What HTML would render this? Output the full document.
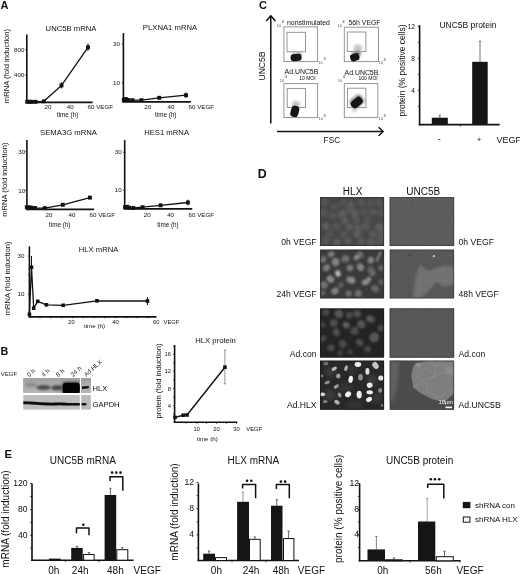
<!DOCTYPE html>
<html><head><meta charset="utf-8"><style>
html,body{margin:0;padding:0;background:#fff;width:520px;height:574px;overflow:hidden}
svg{display:block;filter:grayscale(1)}
text{font-family:"Liberation Sans",sans-serif}
</style></head><body>
<svg width="520" height="574" viewBox="0 0 520 574">
<rect width="520" height="574" fill="#fff"/>
<text x="0.40" y="9.00" font-size="11" text-anchor="start" font-weight="bold" fill="#111" >A</text>
<text x="0.60" y="354.80" font-size="10.8" text-anchor="start" font-weight="bold" fill="#111" >B</text>
<text x="259.00" y="8.80" font-size="11" text-anchor="start" font-weight="bold" fill="#111" >C</text>
<text x="257.80" y="177.90" font-size="12.4" text-anchor="start" font-weight="bold" fill="#111" >D</text>
<text x="4.40" y="458.20" font-size="11.4" text-anchor="start" font-weight="bold" fill="#111" >E</text>
<text x="71.00" y="30.76" font-size="7.7" text-anchor="middle" fill="#111" >UNC5B mRNA</text>
<line x1="26.80" y1="34.60" x2="26.80" y2="103.10" stroke="#111" stroke-width="1.6" />
<line x1="26.00" y1="102.40" x2="92.70" y2="102.40" stroke="#111" stroke-width="1.6" />
<text x="24.40" y="51.62" font-size="6.2" text-anchor="end" fill="#111" >800</text>
<text x="24.40" y="77.42" font-size="6.2" text-anchor="end" fill="#111" >400</text>
<text x="48.00" y="109.02" font-size="6.2" text-anchor="middle" fill="#111" >20</text>
<text x="70.20" y="109.02" font-size="6.2" text-anchor="middle" fill="#111" >40</text>
<text x="87.60" y="109.02" font-size="6.2" text-anchor="start" fill="#111" >60 VEGF</text>
<text x="67.60" y="117.38" font-size="6.3" text-anchor="middle" fill="#111" >time (h)</text>
<text transform="translate(7.40,66.00) rotate(-90)" x="0" y="1.99" font-size="7.65" text-anchor="middle" fill="#111">mRNA (fold induction)</text>
<line x1="25.20" y1="49.40" x2="26.80" y2="49.40" stroke="#111" stroke-width="0.8" />
<line x1="25.20" y1="75.20" x2="26.80" y2="75.20" stroke="#111" stroke-width="0.8" />
<line x1="61.50" y1="82.30" x2="61.50" y2="88.50" stroke="#111" stroke-width="1.0" />
<line x1="88.00" y1="43.50" x2="88.00" y2="50.90" stroke="#111" stroke-width="1.0" />
<polyline points="27.20,101.70 29.50,101.80 31.80,101.80 35.60,101.80 43.80,101.30 61.50,85.40 88.00,47.30" fill="none" stroke="#111" stroke-width="1.3" stroke-linejoin="round"/>
<rect x="25.25" y="99.75" width="3.90" height="3.90" fill="#111" />
<rect x="27.55" y="99.85" width="3.90" height="3.90" fill="#111" />
<rect x="29.85" y="99.85" width="3.90" height="3.90" fill="#111" />
<rect x="33.65" y="99.85" width="3.90" height="3.90" fill="#111" />
<rect x="41.85" y="99.35" width="3.90" height="3.90" fill="#111" />
<rect x="59.55" y="83.45" width="3.90" height="3.90" fill="#111" />
<rect x="86.05" y="45.35" width="3.90" height="3.90" fill="#111" />
<text x="170.00" y="30.46" font-size="7.7" text-anchor="middle" fill="#111" >PLXNA1 mRNA</text>
<line x1="123.40" y1="33.10" x2="123.40" y2="102.60" stroke="#111" stroke-width="1.6" />
<line x1="122.60" y1="101.90" x2="190.80" y2="101.90" stroke="#111" stroke-width="1.6" />
<text x="119.90" y="46.12" font-size="6.2" text-anchor="end" fill="#111" >30</text>
<text x="119.90" y="85.02" font-size="6.2" text-anchor="end" fill="#111" >10</text>
<text x="147.80" y="109.02" font-size="6.2" text-anchor="middle" fill="#111" >20</text>
<text x="171.00" y="109.02" font-size="6.2" text-anchor="middle" fill="#111" >40</text>
<text x="188.60" y="109.02" font-size="6.2" text-anchor="start" fill="#111" >60 VEGF</text>
<text x="165.70" y="116.58" font-size="6.3" text-anchor="middle" fill="#111" >time (h)</text>
<line x1="121.80" y1="43.90" x2="123.40" y2="43.90" stroke="#111" stroke-width="0.8" />
<line x1="121.80" y1="82.80" x2="123.40" y2="82.80" stroke="#111" stroke-width="0.8" />
<line x1="186.00" y1="92.50" x2="186.00" y2="97.80" stroke="#111" stroke-width="1.0" />
<polyline points="123.80,99.80 125.80,99.00 128.20,100.00 132.50,100.20 141.40,100.20 159.20,97.80 186.00,95.20" fill="none" stroke="#111" stroke-width="1.3" stroke-linejoin="round"/>
<rect x="121.85" y="97.85" width="3.90" height="3.90" fill="#111" />
<rect x="123.85" y="97.05" width="3.90" height="3.90" fill="#111" />
<rect x="126.25" y="98.05" width="3.90" height="3.90" fill="#111" />
<rect x="130.55" y="98.25" width="3.90" height="3.90" fill="#111" />
<rect x="139.45" y="98.25" width="3.90" height="3.90" fill="#111" />
<rect x="157.25" y="95.85" width="3.90" height="3.90" fill="#111" />
<rect x="184.05" y="93.25" width="3.90" height="3.90" fill="#111" />
<text x="68.50" y="134.86" font-size="7.7" text-anchor="middle" fill="#111" >SEMA3G mRNA</text>
<line x1="26.90" y1="140.10" x2="26.90" y2="210.10" stroke="#111" stroke-width="1.6" />
<line x1="26.10" y1="209.40" x2="94.10" y2="209.40" stroke="#111" stroke-width="1.6" />
<text x="25.20" y="153.92" font-size="6.2" text-anchor="end" fill="#111" >30</text>
<text x="25.20" y="192.62" font-size="6.2" text-anchor="end" fill="#111" >10</text>
<text x="49.00" y="216.82" font-size="6.2" text-anchor="middle" fill="#111" >20</text>
<text x="72.00" y="216.82" font-size="6.2" text-anchor="middle" fill="#111" >40</text>
<text x="89.60" y="216.82" font-size="6.2" text-anchor="start" fill="#111" >60 VEGF</text>
<text x="59.70" y="226.97" font-size="6.3" text-anchor="middle" fill="#111" >time (h)</text>
<text transform="translate(5.30,179.70) rotate(-90)" x="0" y="1.99" font-size="7.65" text-anchor="middle" fill="#111">mRNA (fold induction)</text>
<line x1="25.30" y1="151.70" x2="26.90" y2="151.70" stroke="#111" stroke-width="0.8" />
<line x1="25.30" y1="190.40" x2="26.90" y2="190.40" stroke="#111" stroke-width="0.8" />
<polyline points="26.80,207.30 28.80,207.30 31.00,207.60 35.00,208.00 44.80,208.10 62.80,204.80 89.90,197.60" fill="none" stroke="#111" stroke-width="1.3" stroke-linejoin="round"/>
<rect x="24.85" y="205.35" width="3.90" height="3.90" fill="#111" />
<rect x="26.85" y="205.35" width="3.90" height="3.90" fill="#111" />
<rect x="29.05" y="205.65" width="3.90" height="3.90" fill="#111" />
<rect x="33.05" y="206.05" width="3.90" height="3.90" fill="#111" />
<rect x="42.85" y="206.15" width="3.90" height="3.90" fill="#111" />
<rect x="60.85" y="202.85" width="3.90" height="3.90" fill="#111" />
<rect x="87.95" y="195.65" width="3.90" height="3.90" fill="#111" />
<text x="166.60" y="134.86" font-size="7.7" text-anchor="middle" fill="#111" >HES1 mRNA</text>
<line x1="124.70" y1="140.10" x2="124.70" y2="209.60" stroke="#111" stroke-width="1.6" />
<line x1="123.90" y1="208.90" x2="192.20" y2="208.90" stroke="#111" stroke-width="1.6" />
<text x="121.60" y="154.42" font-size="6.2" text-anchor="end" fill="#111" >30</text>
<text x="121.60" y="192.42" font-size="6.2" text-anchor="end" fill="#111" >10</text>
<text x="147.30" y="216.82" font-size="6.2" text-anchor="middle" fill="#111" >20</text>
<text x="170.60" y="216.82" font-size="6.2" text-anchor="middle" fill="#111" >40</text>
<text x="188.60" y="216.82" font-size="6.2" text-anchor="start" fill="#111" >60 VEGF</text>
<text x="168.00" y="226.97" font-size="6.3" text-anchor="middle" fill="#111" >time (h)</text>
<line x1="123.10" y1="152.20" x2="124.70" y2="152.20" stroke="#111" stroke-width="0.8" />
<line x1="123.10" y1="190.20" x2="124.70" y2="190.20" stroke="#111" stroke-width="0.8" />
<line x1="187.90" y1="199.60" x2="187.90" y2="205.40" stroke="#111" stroke-width="1.0" />
<polyline points="125.00,207.00 127.00,206.80 129.00,207.60 133.30,208.00 142.60,207.20 160.60,205.30 187.90,202.50" fill="none" stroke="#111" stroke-width="1.3" stroke-linejoin="round"/>
<rect x="123.05" y="205.05" width="3.90" height="3.90" fill="#111" />
<rect x="125.05" y="204.85" width="3.90" height="3.90" fill="#111" />
<rect x="127.05" y="205.65" width="3.90" height="3.90" fill="#111" />
<rect x="131.35" y="206.05" width="3.90" height="3.90" fill="#111" />
<rect x="140.65" y="205.25" width="3.90" height="3.90" fill="#111" />
<rect x="158.65" y="203.35" width="3.90" height="3.90" fill="#111" />
<rect x="185.95" y="200.55" width="3.90" height="3.90" fill="#111" />
<text x="98.60" y="251.86" font-size="7.7" text-anchor="middle" fill="#111" >HLX mRNA</text>
<line x1="29.40" y1="246.40" x2="29.40" y2="317.50" stroke="#111" stroke-width="1.6" />
<line x1="28.60" y1="316.90" x2="156.50" y2="316.90" stroke="#111" stroke-width="1.6" />
<text x="24.40" y="258.22" font-size="6.2" text-anchor="end" fill="#111" >30</text>
<text x="24.40" y="296.22" font-size="6.2" text-anchor="end" fill="#111" >10</text>
<line x1="40.00" y1="316.80" x2="40.00" y2="318.30" stroke="#111" stroke-width="0.7" />
<line x1="50.90" y1="316.80" x2="50.90" y2="318.30" stroke="#111" stroke-width="0.7" />
<line x1="61.70" y1="316.80" x2="61.70" y2="318.30" stroke="#111" stroke-width="0.7" />
<line x1="72.40" y1="316.80" x2="72.40" y2="318.30" stroke="#111" stroke-width="0.7" />
<line x1="83.20" y1="316.80" x2="83.20" y2="318.30" stroke="#111" stroke-width="0.7" />
<line x1="94.00" y1="316.80" x2="94.00" y2="318.30" stroke="#111" stroke-width="0.7" />
<line x1="104.70" y1="316.80" x2="104.70" y2="318.30" stroke="#111" stroke-width="0.7" />
<line x1="115.50" y1="316.80" x2="115.50" y2="318.30" stroke="#111" stroke-width="0.7" />
<line x1="126.20" y1="316.80" x2="126.20" y2="318.30" stroke="#111" stroke-width="0.7" />
<line x1="137.00" y1="316.80" x2="137.00" y2="318.30" stroke="#111" stroke-width="0.7" />
<line x1="147.70" y1="316.80" x2="147.70" y2="318.30" stroke="#111" stroke-width="0.7" />
<line x1="27.80" y1="256.00" x2="29.40" y2="256.00" stroke="#111" stroke-width="0.7" />
<line x1="27.80" y1="275.00" x2="29.40" y2="275.00" stroke="#111" stroke-width="0.7" />
<line x1="27.80" y1="294.00" x2="29.40" y2="294.00" stroke="#111" stroke-width="0.7" />
<text x="71.50" y="324.28" font-size="5.8" text-anchor="middle" fill="#111" >20</text>
<text x="115.50" y="324.28" font-size="5.8" text-anchor="middle" fill="#111" >40</text>
<text x="156.30" y="324.28" font-size="5.8" text-anchor="middle" fill="#111" >60</text>
<text x="163.60" y="324.28" font-size="5.8" text-anchor="start" fill="#111" >VEGF</text>
<text x="94.50" y="327.95" font-size="6.2" text-anchor="middle" fill="#111" >time (h)</text>
<text transform="translate(8.40,278.40) rotate(-90)" x="0" y="1.98" font-size="7.6" text-anchor="middle" fill="#111">mRNA (fold induction)</text>
<line x1="31.50" y1="256.00" x2="31.50" y2="278.00" stroke="#111" stroke-width="1.0" />
<line x1="147.50" y1="297.00" x2="147.50" y2="305.00" stroke="#111" stroke-width="1.0" />
<polyline points="29.40,314.30 31.50,267.20 33.70,308.20 37.70,301.30 46.40,304.80 63.20,305.30 97.00,300.80 147.50,301.00" fill="none" stroke="#111" stroke-width="1.3" stroke-linejoin="round"/>
<rect x="27.60" y="312.50" width="3.60" height="3.60" fill="#111" />
<rect x="29.70" y="265.40" width="3.60" height="3.60" fill="#111" />
<rect x="31.90" y="306.40" width="3.60" height="3.60" fill="#111" />
<rect x="35.90" y="299.50" width="3.60" height="3.60" fill="#111" />
<rect x="44.60" y="303.00" width="3.60" height="3.60" fill="#111" />
<rect x="61.40" y="303.50" width="3.60" height="3.60" fill="#111" />
<rect x="95.20" y="299.00" width="3.60" height="3.60" fill="#111" />
<rect x="145.70" y="299.20" width="3.60" height="3.60" fill="#111" />
<text x="0.80" y="376.35" font-size="6.0" text-anchor="start" fill="#222" >VEGF</text>
<text transform="translate(29.2,377.2) rotate(-42)" font-size="6.3" fill="#222">0 h</text>
<text transform="translate(43.8,377.2) rotate(-42)" font-size="6.3" fill="#222">4 h</text>
<text transform="translate(58.3,377.2) rotate(-42)" font-size="6.3" fill="#222">8 h</text>
<text transform="translate(73.0,377.2) rotate(-42)" font-size="6.3" fill="#222">24 h</text>
<text transform="translate(86.2,377.0) rotate(-42)" font-size="6.3" fill="#222">Ad.HLX</text>
<defs>
<filter id="bl1" x="-30%" y="-60%" width="160%" height="220%"><feGaussianBlur stdDeviation="1.2"/></filter>
<filter id="bl06" x="-30%" y="-60%" width="160%" height="220%"><feGaussianBlur stdDeviation="0.6"/></filter>
<filter id="bl2" x="-30%" y="-30%" width="160%" height="160%"><feGaussianBlur stdDeviation="1.6"/></filter>
<filter id="bl08" x="-30%" y="-30%" width="160%" height="160%"><feGaussianBlur stdDeviation="0.8"/></filter>
<clipPath id="cb1"><rect x="23.3" y="378.2" width="56.5" height="14.7"/></clipPath>
<clipPath id="cb2"><rect x="23.3" y="395.1" width="56.5" height="14.5"/></clipPath>
<clipPath id="cb3"><rect x="81.2" y="378.2" width="9.6" height="14.7"/></clipPath>
<clipPath id="cb4"><rect x="81.2" y="395.1" width="9.6" height="14.5"/></clipPath>
</defs>
<rect x="23.30" y="378.20" width="56.50" height="14.70" fill="#ababab" />
<rect x="23.30" y="395.10" width="56.50" height="14.50" fill="#bdbdbd" />
<rect x="81.20" y="378.20" width="9.60" height="14.70" fill="#ababab" />
<rect x="81.20" y="395.10" width="9.60" height="14.50" fill="#bababa" />
<defs><linearGradient id="blg" x1="0" y1="0" x2="0" y2="1"><stop offset="0" stop-color="#9c9c9c"/><stop offset="0.35" stop-color="#ababab"/><stop offset="1" stop-color="#b6b6b6"/></linearGradient></defs>
<rect x="23.30" y="378.20" width="56.50" height="14.70" fill="url(#blg)" />
<rect x="81.20" y="378.20" width="9.60" height="14.70" fill="url(#blg)" />
<g clip-path="url(#cb1)"><g filter="url(#bl1)"><ellipse cx="31" cy="385" rx="6" ry="2.4" fill="#8e8e8e"/><ellipse cx="43.5" cy="387.5" rx="7.2" ry="2.5" fill="#4c4c4c"/><ellipse cx="57" cy="387.8" rx="5.8" ry="2.7" fill="#484848"/><rect x="61.5" y="381.5" width="19" height="13" rx="4" fill="#555"/></g><g filter="url(#bl06)"><rect x="62.8" y="382.8" width="17.2" height="11.5" rx="3.5" fill="#060606"/></g></g>
<g clip-path="url(#cb3)"><g filter="url(#bl06)"><path d="M82,386.6 L88.8,386 L88.8,388.2 L82,389 Z" fill="#111"/></g></g>
<g clip-path="url(#cb2)"><g filter="url(#bl06)"><path d="M22,401.2 C30,401.3 38,402.2 46,402.6 C52,402.9 58,402.4 63,402.5 C68,403 74,403.1 80,402.9 L80,405.5 C72,405.7 66,405.6 60,405.2 C52,405.5 44,405.6 36,404.8 C30,404.5 26,404.3 22,404.3 Z" fill="#0a0a0a"/></g></g>
<g clip-path="url(#cb4)"><g filter="url(#bl06)"><ellipse cx="84" cy="404.2" rx="2.8" ry="1.3" fill="#111"/></g></g>
<text x="92.60" y="390.72" font-size="7.6" text-anchor="start" fill="#111" >HLX</text>
<text x="92.60" y="406.72" font-size="7.6" text-anchor="start" fill="#111" >GAPDH</text>
<text x="215.60" y="343.16" font-size="7.7" text-anchor="middle" fill="#111" >HLX protein</text>
<line x1="174.60" y1="345.00" x2="174.60" y2="423.00" stroke="#111" stroke-width="1.6" />
<line x1="173.80" y1="422.30" x2="237.30" y2="422.30" stroke="#111" stroke-width="1.6" />
<text x="171.00" y="356.38" font-size="5.8" text-anchor="end" fill="#111" >16</text>
<text x="171.00" y="373.28" font-size="5.8" text-anchor="end" fill="#111" >12</text>
<text x="171.00" y="390.58" font-size="5.8" text-anchor="end" fill="#111" >8</text>
<text x="171.00" y="407.78" font-size="5.8" text-anchor="end" fill="#111" >4</text>
<line x1="173.00" y1="346.00" x2="174.60" y2="346.00" stroke="#111" stroke-width="0.7" />
<line x1="173.00" y1="354.30" x2="174.60" y2="354.30" stroke="#111" stroke-width="0.7" />
<line x1="173.00" y1="362.80" x2="174.60" y2="362.80" stroke="#111" stroke-width="0.7" />
<line x1="173.00" y1="371.20" x2="174.60" y2="371.20" stroke="#111" stroke-width="0.7" />
<line x1="173.00" y1="379.80" x2="174.60" y2="379.80" stroke="#111" stroke-width="0.7" />
<line x1="173.00" y1="388.50" x2="174.60" y2="388.50" stroke="#111" stroke-width="0.7" />
<line x1="173.00" y1="397.00" x2="174.60" y2="397.00" stroke="#111" stroke-width="0.7" />
<line x1="173.00" y1="405.70" x2="174.60" y2="405.70" stroke="#111" stroke-width="0.7" />
<line x1="173.00" y1="414.00" x2="174.60" y2="414.00" stroke="#111" stroke-width="0.7" />
<line x1="186.00" y1="422.20" x2="186.00" y2="423.80" stroke="#111" stroke-width="0.7" />
<line x1="196.80" y1="422.20" x2="196.80" y2="423.80" stroke="#111" stroke-width="0.7" />
<line x1="206.50" y1="422.20" x2="206.50" y2="423.80" stroke="#111" stroke-width="0.7" />
<line x1="216.50" y1="422.20" x2="216.50" y2="423.80" stroke="#111" stroke-width="0.7" />
<line x1="226.50" y1="422.20" x2="226.50" y2="423.80" stroke="#111" stroke-width="0.7" />
<line x1="236.50" y1="422.20" x2="236.50" y2="423.80" stroke="#111" stroke-width="0.7" />
<text x="196.80" y="431.28" font-size="5.8" text-anchor="middle" fill="#111" >10</text>
<text x="216.50" y="431.28" font-size="5.8" text-anchor="middle" fill="#111" >20</text>
<text x="236.50" y="431.28" font-size="5.8" text-anchor="middle" fill="#111" >30</text>
<text x="246.30" y="431.28" font-size="5.8" text-anchor="start" fill="#111" >VEGF</text>
<text x="207.30" y="441.15" font-size="6.2" text-anchor="middle" fill="#111" >time (h)</text>
<text transform="translate(159,381) rotate(-90)" x="0" y="1.98" font-size="7.6" text-anchor="middle" fill="#111">protein (fold induction)</text>
<line x1="224.90" y1="350.00" x2="224.90" y2="383.80" stroke="#777" stroke-width="0.8" />
<line x1="223.70" y1="350.00" x2="226.10" y2="350.00" stroke="#777" stroke-width="0.8" />
<line x1="223.70" y1="383.80" x2="226.10" y2="383.80" stroke="#777" stroke-width="0.8" />
<polyline points="175.00,417.40 183.20,415.20 187.00,415.00 224.90,367.20" fill="none" stroke="#111" stroke-width="1.4" stroke-linejoin="round"/>
<rect x="173.20" y="415.60" width="3.60" height="3.60" fill="#111" />
<rect x="181.40" y="413.40" width="3.60" height="3.60" fill="#111" />
<rect x="185.20" y="413.20" width="3.60" height="3.60" fill="#111" />
<rect x="223.10" y="365.40" width="3.60" height="3.60" fill="#111" />
<line x1="270.80" y1="16.20" x2="270.80" y2="123.50" stroke="#111" stroke-width="1.5" />
<polyline points="266.20,20.90 270.80,15.80 275.40,20.90" fill="none" stroke="#111" stroke-width="1.5" stroke-linejoin="round"/>
<line x1="277.00" y1="131.50" x2="382.60" y2="131.50" stroke="#111" stroke-width="1.5" />
<polyline points="378.60,127.30 383.20,131.50 378.60,135.70" fill="none" stroke="#111" stroke-width="1.5" stroke-linejoin="round"/>
<text transform="translate(262.00,66.00) rotate(-90)" x="0" y="3.08" font-size="8.6" text-anchor="middle" fill="#111">UNC5B</text>
<text x="331.90" y="142.97" font-size="8.3" text-anchor="middle" fill="#111" >FSC</text>
<rect x="283.90" y="26.90" width="33.70" height="34.70" fill="none" stroke="#8a8a8a" stroke-width="0.9" />
<rect x="287.00" y="32.30" width="18.50" height="19.50" fill="none" stroke="#8a8a8a" stroke-width="0.9" />
<g filter="url(#bl08)"><rect x="292" y="52.5" width="10.00" height="4.50" rx="2" transform="rotate(-5 297.00 54.75)" fill="#b0b0b0"/></g><g filter="url(#mb6)"><rect x="290.6" y="54.0" width="11.00" height="7.00" rx="3" transform="rotate(-6 296.10 57.50)" fill="#151515"/></g>
<rect x="344.30" y="27.20" width="34.20" height="34.40" fill="none" stroke="#8a8a8a" stroke-width="0.9" />
<rect x="347.30" y="32.00" width="18.60" height="19.50" fill="none" stroke="#8a8a8a" stroke-width="0.9" />
<g filter="url(#bl08)"><rect x="354" y="44.5" width="8.00" height="7.50" rx="3" transform="rotate(20 358.00 48.25)" fill="#c8c8c8"/><rect x="352" y="51" width="9.00" height="6.00" rx="2.5" transform="rotate(-20 356.50 54.00)" fill="#8a8a8a"/></g><g filter="url(#mb6)"><rect x="350.2" y="53.6" width="9.20" height="7.40" rx="3" transform="rotate(-18 354.80 57.30)" fill="#161616"/></g>
<rect x="283.90" y="83.60" width="33.70" height="34.00" fill="none" stroke="#8a8a8a" stroke-width="0.9" />
<rect x="287.20" y="88.40" width="18.30" height="19.00" fill="none" stroke="#8a8a8a" stroke-width="0.9" />
<g filter="url(#bl08)"><rect x="292" y="101" width="8.00" height="8.00" rx="3" transform="rotate(15 296.00 105.00)" fill="#c4c4c4"/></g><g filter="url(#mb6)"><rect x="290.8" y="105.6" width="8.00" height="11.40" rx="3.5" transform="rotate(14 294.80 111.30)" fill="#151515"/></g>
<rect x="344.30" y="83.60" width="33.50" height="33.80" fill="none" stroke="#8a8a8a" stroke-width="0.9" />
<rect x="347.50" y="88.20" width="18.40" height="19.40" fill="none" stroke="#8a8a8a" stroke-width="0.9" />
<g filter="url(#bl08)"><rect x="350" y="96" width="14.00" height="11.00" rx="4" transform="rotate(-38 357.00 101.50)" fill="#9a9a9a"/><rect x="352" y="107" width="5.00" height="5.00" rx="2" transform="rotate(0 354.50 109.50)" fill="#d0d0d0"/></g><g filter="url(#mb6)"><rect x="350.4" y="98.5" width="12.60" height="8.10" rx="3.5" transform="rotate(-40 356.70 102.55)" fill="#161616"/></g>
<text x="287.00" y="25.07" font-size="6.9" text-anchor="start" fill="#111" >nonstimulated</text>
<text x="348.40" y="24.67" font-size="6.9" text-anchor="start" fill="#111" >56h VEGF</text>
<text x="284.60" y="74.27" font-size="6.9" text-anchor="start" fill="#111" >Ad.UNC5B</text>
<text x="344.60" y="74.87" font-size="6.9" text-anchor="start" fill="#111" >Ad.UNC5B</text>
<text x="299.20" y="79.69" font-size="5.0" text-anchor="start" fill="#111" >10 MOI</text>
<text x="358.50" y="80.39" font-size="5.0" text-anchor="start" fill="#111" >100 MOI</text>
<text x="276.7" y="26.9" font-size="4" fill="#555">10</text><text x="281.8" y="23.4" font-size="3.8" fill="#222">4</text>
<text x="337.5" y="26.9" font-size="4" fill="#555">10</text><text x="342.6" y="23.4" font-size="3.8" fill="#222">4</text>
<text x="279.7" y="81.8" font-size="4" fill="#555">10</text><text x="284.8" y="78.3" font-size="3.8" fill="#222">4</text>
<text x="337.7" y="81.7" font-size="4" fill="#555">10</text><text x="342.8" y="78.2" font-size="3.8" fill="#222">4</text>
<text x="318.3" y="63.9" font-size="4" fill="#555">10</text><text x="323.4" y="60.4" font-size="3.8" fill="#222">3</text>
<text x="378.5" y="64.1" font-size="4" fill="#555">10</text><text x="383.6" y="60.6" font-size="3.8" fill="#222">3</text>
<text x="318.5" y="120.1" font-size="4" fill="#555">10</text><text x="323.6" y="116.6" font-size="3.8" fill="#222">3</text>
<text x="378.5" y="120.3" font-size="4" fill="#555">10</text><text x="383.6" y="116.8" font-size="3.8" fill="#222">3</text>
<text x="468.00" y="28.44" font-size="8.5" text-anchor="middle" fill="#111" >UNC5B protein</text>
<line x1="419.60" y1="25.20" x2="419.60" y2="125.30" stroke="#111" stroke-width="1.6" />
<line x1="418.80" y1="124.60" x2="499.70" y2="124.60" stroke="#111" stroke-width="1.6" />
<line x1="460.50" y1="124.60" x2="460.50" y2="126.40" stroke="#111" stroke-width="0.8" />
<text x="415.00" y="28.76" font-size="6.6" text-anchor="end" fill="#111" >12</text>
<text x="415.00" y="61.36" font-size="6.6" text-anchor="end" fill="#111" >8</text>
<text x="415.00" y="92.86" font-size="6.6" text-anchor="end" fill="#111" >4</text>
<line x1="417.80" y1="26.40" x2="419.60" y2="26.40" stroke="#111" stroke-width="0.8" />
<line x1="417.80" y1="42.40" x2="419.60" y2="42.40" stroke="#111" stroke-width="0.8" />
<line x1="417.80" y1="58.40" x2="419.60" y2="58.40" stroke="#111" stroke-width="0.8" />
<line x1="417.80" y1="74.40" x2="419.60" y2="74.40" stroke="#111" stroke-width="0.8" />
<line x1="417.80" y1="90.40" x2="419.60" y2="90.40" stroke="#111" stroke-width="0.8" />
<line x1="417.80" y1="106.40" x2="419.60" y2="106.40" stroke="#111" stroke-width="0.8" />
<line x1="439.80" y1="115.20" x2="439.80" y2="118.00" stroke="#555" stroke-width="0.8" />
<line x1="438.60" y1="115.20" x2="441.00" y2="115.20" stroke="#555" stroke-width="0.8" />
<rect x="431.80" y="117.70" width="16.00" height="6.90" fill="#151515" />
<line x1="480.00" y1="41.20" x2="480.00" y2="62.00" stroke="#555" stroke-width="0.8" />
<line x1="478.80" y1="41.20" x2="481.20" y2="41.20" stroke="#555" stroke-width="0.8" />
<rect x="472.20" y="61.80" width="15.50" height="62.80" fill="#151515" />
<text x="439.20" y="142.42" font-size="9" text-anchor="middle" fill="#111" >-</text>
<text x="479.20" y="142.46" font-size="8" text-anchor="middle" fill="#111" >+</text>
<text x="496.40" y="142.82" font-size="9" text-anchor="start" fill="#111" >VEGF</text>
<text transform="translate(402.3,70.5) rotate(-90)" x="0" y="2.21" font-size="8.5" text-anchor="middle" fill="#111">protein (% positive cells)</text>
<text x="352.60" y="194.78" font-size="10" text-anchor="middle" fill="#111" >HLX</text>
<text x="423.30" y="195.28" font-size="10" text-anchor="middle" fill="#111" >UNC5B</text>
<clipPath id="m1_0"><rect x="320" y="197.1" width="64.10" height="48.90"/></clipPath>
<clipPath id="m2_0"><rect x="389.7" y="197.1" width="64.40" height="48.90"/></clipPath>
<clipPath id="m1_1"><rect x="320" y="249.6" width="64.10" height="48.80"/></clipPath>
<clipPath id="m2_1"><rect x="389.7" y="249.6" width="64.40" height="48.80"/></clipPath>
<clipPath id="m1_2"><rect x="320" y="308.4" width="64.10" height="49.20"/></clipPath>
<clipPath id="m2_2"><rect x="389.7" y="308.4" width="64.40" height="49.20"/></clipPath>
<clipPath id="m1_3"><rect x="320" y="360.6" width="64.10" height="49.20"/></clipPath>
<clipPath id="m2_3"><rect x="389.7" y="360.6" width="64.40" height="49.20"/></clipPath>
<defs><filter id="grW" x="0" y="0" width="1" height="1" color-interpolation-filters="sRGB"><feTurbulence type="fractalNoise" baseFrequency="0.85" numOctaves="2" seed="4"/><feColorMatrix type="matrix" values="0 0 0 0 1  0 0 0 0 1  0 0 0 0 1  0.9 0 0 0 -0.45"/></filter><filter id="grB" x="0" y="0" width="1" height="1" color-interpolation-filters="sRGB"><feTurbulence type="fractalNoise" baseFrequency="0.85" numOctaves="2" seed="4"/><feColorMatrix type="matrix" values="0 0 0 0 0  0 0 0 0 0  0 0 0 0 0  -0.9 0 0 0 0.45"/></filter></defs>
<defs><filter id="mb6" x="-20%" y="-20%" width="140%" height="140%"><feGaussianBlur stdDeviation="0.6"/></filter><filter id="mb8" x="-20%" y="-20%" width="140%" height="140%"><feGaussianBlur stdDeviation="0.8"/></filter><filter id="mb10" x="-20%" y="-20%" width="140%" height="140%"><feGaussianBlur stdDeviation="1.0"/></filter><filter id="mb12" x="-20%" y="-20%" width="140%" height="140%"><feGaussianBlur stdDeviation="1.2"/></filter><filter id="mb14" x="-20%" y="-20%" width="140%" height="140%"><feGaussianBlur stdDeviation="1.4"/></filter><filter id="mb16" x="-20%" y="-20%" width="140%" height="140%"><feGaussianBlur stdDeviation="1.6"/></filter><filter id="mb20" x="-20%" y="-20%" width="140%" height="140%"><feGaussianBlur stdDeviation="2.0"/></filter><filter id="mb25" x="-20%" y="-20%" width="140%" height="140%"><feGaussianBlur stdDeviation="2.5"/></filter><filter id="mb30" x="-20%" y="-20%" width="140%" height="140%"><feGaussianBlur stdDeviation="3.0"/></filter></defs>
<g clip-path="url(#m1_0)"><g><rect x="320" y="197.1" width="64.10" height="48.90" fill="#454545"/><g filter="url(#mb16)"><ellipse cx="324.5" cy="202.2" rx="4.5" ry="3.9" transform="rotate(-54 324.5 202.2)" fill="#535353"/><ellipse cx="334.3" cy="206.8" rx="4.0" ry="3.0" transform="rotate(1 334.3 206.8)" fill="#565656"/><ellipse cx="342.8" cy="202.8" rx="3.7" ry="3.1" transform="rotate(-31 342.8 202.8)" fill="#565656"/><ellipse cx="351.0" cy="205.0" rx="3.7" ry="3.3" transform="rotate(54 351.0 205.0)" fill="#5e5e5e"/><ellipse cx="361.0" cy="202.8" rx="4.2" ry="3.5" transform="rotate(57 361.0 202.8)" fill="#565656"/><ellipse cx="370.3" cy="203.5" rx="4.2" ry="3.3" transform="rotate(-10 370.3 203.5)" fill="#565656"/><ellipse cx="379.5" cy="203.0" rx="4.2" ry="3.7" transform="rotate(22 379.5 203.0)" fill="#565656"/><ellipse cx="323.9" cy="212.6" rx="4.2" ry="3.8" transform="rotate(-15 323.9 212.6)" fill="#565656"/><ellipse cx="349.4" cy="209.0" rx="4.2" ry="3.8" transform="rotate(-0 349.4 209.0)" fill="#565656"/><ellipse cx="354.6" cy="213.5" rx="4.4" ry="3.8" transform="rotate(51 354.6 213.5)" fill="#5e5e5e"/><ellipse cx="364.0" cy="211.5" rx="3.9" ry="3.7" transform="rotate(24 364.0 211.5)" fill="#535353"/><ellipse cx="373.0" cy="212.0" rx="3.7" ry="3.0" transform="rotate(-1 373.0 212.0)" fill="#5a5a5a"/><ellipse cx="381.0" cy="213.0" rx="4.3" ry="3.6" transform="rotate(58 381.0 213.0)" fill="#535353"/><ellipse cx="333.0" cy="215.9" rx="4.1" ry="3.3" transform="rotate(-19 333.0 215.9)" fill="#565656"/><ellipse cx="342.2" cy="214.0" rx="4.0" ry="4.0" transform="rotate(-51 342.2 214.0)" fill="#5e5e5e"/><ellipse cx="367.7" cy="219.0" rx="3.9" ry="3.3" transform="rotate(-0 367.7 219.0)" fill="#535353"/><ellipse cx="345.0" cy="221.0" rx="3.7" ry="2.8" transform="rotate(-28 345.0 221.0)" fill="#5e5e5e"/><ellipse cx="356.0" cy="220.0" rx="3.7" ry="3.4" transform="rotate(18 356.0 220.0)" fill="#565656"/><ellipse cx="325.8" cy="226.4" rx="3.9" ry="3.3" transform="rotate(20 325.8 226.4)" fill="#5e5e5e"/><ellipse cx="336.3" cy="226.4" rx="4.5" ry="3.8" transform="rotate(13 336.3 226.4)" fill="#565656"/><ellipse cx="349.4" cy="227.0" rx="3.7" ry="3.4" transform="rotate(-44 349.4 227.0)" fill="#5e5e5e"/><ellipse cx="358.0" cy="228.0" rx="4.0" ry="3.9" transform="rotate(-0 358.0 228.0)" fill="#5a5a5a"/><ellipse cx="366.0" cy="226.0" rx="4.0" ry="3.6" transform="rotate(46 366.0 226.0)" fill="#5a5a5a"/><ellipse cx="379.5" cy="227.0" rx="4.5" ry="3.7" transform="rotate(-10 379.5 227.0)" fill="#5e5e5e"/><ellipse cx="329.8" cy="234.2" rx="4.3" ry="3.6" transform="rotate(-32 329.8 234.2)" fill="#535353"/><ellipse cx="344.2" cy="234.2" rx="3.8" ry="3.1" transform="rotate(-32 344.2 234.2)" fill="#565656"/><ellipse cx="357.2" cy="234.2" rx="4.4" ry="3.5" transform="rotate(-26 357.2 234.2)" fill="#5e5e5e"/><ellipse cx="373.0" cy="234.0" rx="4.0" ry="3.4" transform="rotate(8 373.0 234.0)" fill="#5a5a5a"/><ellipse cx="382.0" cy="235.0" rx="4.3" ry="3.8" transform="rotate(14 382.0 235.0)" fill="#5a5a5a"/><ellipse cx="325.8" cy="241.0" rx="4.1" ry="3.9" transform="rotate(54 325.8 241.0)" fill="#565656"/><ellipse cx="337.0" cy="242.0" rx="4.0" ry="3.4" transform="rotate(-2 337.0 242.0)" fill="#5e5e5e"/><ellipse cx="348.0" cy="241.0" rx="3.7" ry="2.8" transform="rotate(-35 348.0 241.0)" fill="#5e5e5e"/><ellipse cx="361.2" cy="241.0" rx="3.7" ry="3.3" transform="rotate(-48 361.2 241.0)" fill="#5a5a5a"/><ellipse cx="371.0" cy="242.0" rx="4.1" ry="4.1" transform="rotate(14 371.0 242.0)" fill="#5a5a5a"/><ellipse cx="380.0" cy="241.0" rx="4.5" ry="4.0" transform="rotate(-42 380.0 241.0)" fill="#565656"/></g></g></g>
<g opacity="0.15"><rect x="320" y="197.1" width="64.10" height="48.90" fill="#000" filter="url(#grW)"/><rect x="320" y="197.1" width="64.10" height="48.90" fill="#000" filter="url(#grB)"/></g>
<rect x="320.35" y="197.45" width="63.40" height="48.20" fill="none" stroke="#2e2e2e" stroke-width="0.7"/>
<rect x="389.70" y="197.10" width="64.40" height="48.90" fill="#5c5c5c" />
<g opacity="0.15"><rect x="389.7" y="197.1" width="64.40" height="48.90" fill="#000" filter="url(#grW)"/><rect x="389.7" y="197.1" width="64.40" height="48.90" fill="#000" filter="url(#grB)"/></g>
<rect x="390.05" y="197.45" width="63.70" height="48.20" fill="none" stroke="#3a3a3a" stroke-width="0.7"/>
<g clip-path="url(#m1_1)"><g><rect x="320" y="249.6" width="64.10" height="48.80" fill="#393939"/><g filter="url(#mb12)"><ellipse cx="331.1" cy="254.2" rx="3.6" ry="2.9" transform="rotate(-18 331.1 254.2)" fill="#7a7a7a"/><ellipse cx="323.2" cy="259.4" rx="3.8" ry="3.2" transform="rotate(-45 323.2 259.4)" fill="#6e6e6e"/><ellipse cx="335.6" cy="262.0" rx="4.0" ry="3.8" transform="rotate(59 335.6 262.0)" fill="#828282"/><ellipse cx="345.5" cy="258.8" rx="4.0" ry="3.5" transform="rotate(-2 345.5 258.8)" fill="#707070"/><ellipse cx="326.5" cy="267.9" rx="4.0" ry="3.1" transform="rotate(-48 326.5 267.9)" fill="#7a7a7a"/><ellipse cx="337.6" cy="272.5" rx="2.8" ry="2.3" transform="rotate(-28 337.6 272.5)" fill="#a8a8a8"/><ellipse cx="350.0" cy="268.0" rx="3.4" ry="3.3" transform="rotate(-41 350.0 268.0)" fill="#7a7a7a"/><ellipse cx="360.4" cy="254.6" rx="4.0" ry="3.0" transform="rotate(54 360.4 254.6)" fill="#666666"/><ellipse cx="356.6" cy="257.4" rx="3.0" ry="2.6" transform="rotate(-42 356.6 257.4)" fill="#8a8a8a"/><ellipse cx="370.8" cy="260.2" rx="3.6" ry="3.2" transform="rotate(-57 370.8 260.2)" fill="#808080"/><ellipse cx="360.4" cy="267.1" rx="4.0" ry="3.5" transform="rotate(57 360.4 267.1)" fill="#808080"/><ellipse cx="370.8" cy="269.9" rx="3.5" ry="3.4" transform="rotate(24 370.8 269.9)" fill="#606060"/><ellipse cx="338.3" cy="274.6" rx="2.4" ry="2.0" transform="rotate(-16 338.3 274.6)" fill="#c4c4c4"/><ellipse cx="330.4" cy="279.2" rx="4.0" ry="3.2" transform="rotate(33 330.4 279.2)" fill="#8a8a8a"/><ellipse cx="323.9" cy="285.0" rx="4.0" ry="3.5" transform="rotate(33 323.9 285.0)" fill="#707070"/><ellipse cx="335.0" cy="291.0" rx="4.0" ry="3.3" transform="rotate(-33 335.0 291.0)" fill="#808080"/><ellipse cx="349.4" cy="279.8" rx="3.2" ry="3.0" transform="rotate(58 349.4 279.8)" fill="#808080"/><ellipse cx="348.7" cy="293.6" rx="3.2" ry="3.1" transform="rotate(37 348.7 293.6)" fill="#6a6a6a"/><ellipse cx="352.0" cy="280.3" rx="3.5" ry="3.3" transform="rotate(29 352.0 280.3)" fill="#8c8c8c"/><ellipse cx="365.2" cy="282.4" rx="3.5" ry="2.8" transform="rotate(2 365.2 282.4)" fill="#8a8a8a"/><ellipse cx="368.7" cy="279.6" rx="2.8" ry="2.3" transform="rotate(-57 368.7 279.6)" fill="#909090"/><ellipse cx="372.8" cy="273.4" rx="3.2" ry="2.4" transform="rotate(-26 372.8 273.4)" fill="#707070"/><ellipse cx="375.0" cy="288.6" rx="4.0" ry="3.3" transform="rotate(23 375.0 288.6)" fill="#666666"/><ellipse cx="358.3" cy="293.5" rx="3.5" ry="3.5" transform="rotate(-6 358.3 293.5)" fill="#707070"/><ellipse cx="381.5" cy="282.0" rx="3.0" ry="3.0" transform="rotate(59 381.5 282.0)" fill="#5a5a5a"/><ellipse cx="381.0" cy="268.0" rx="3.0" ry="3.0" transform="rotate(-16 381.0 268.0)" fill="#646464"/><ellipse cx="341.0" cy="285.0" rx="3.0" ry="2.4" transform="rotate(-33 341.0 285.0)" fill="#606060"/><ellipse cx="323.0" cy="293.0" rx="3.0" ry="2.4" transform="rotate(-35 323.0 293.0)" fill="#5e5e5e"/></g><g filter="url(#mb10)"><line x1="381" y1="251.5" x2="376.5" y2="261.5" stroke="#8a8a8a" stroke-width="2"/></g></g></g>
<g opacity="0.15"><rect x="320" y="249.6" width="64.10" height="48.80" fill="#000" filter="url(#grW)"/><rect x="320" y="249.6" width="64.10" height="48.80" fill="#000" filter="url(#grB)"/></g>
<rect x="320.35" y="249.95" width="63.40" height="48.10" fill="none" stroke="#2e2e2e" stroke-width="0.7"/>
<g clip-path="url(#m2_1)"><g><rect x="389.7" y="249.6" width="64.40" height="48.80" fill="#575757"/><g filter="url(#mb16)"></g><g filter="url(#mb12)"><polygon points="420.6,264.5 424,268 429.5,271.2 436,268 444.3,265.2 454.5,266.5 454.5,284 444.3,287 436,282 429.5,290 421,297.5 412.8,298 414.2,287 416,275" fill="#717171"/></g><g filter="url(#mb8)" stroke="#7c7c7c" stroke-width="0.8" fill="none"><path d="M419,268 L421,276 L418,285 L419,295 M428,273 L437,270 L447,270 M431,283 L440,279 L450,283 M422,289 L428,292"/></g><g filter="url(#mb6)"><circle cx="433.8" cy="256.2" r="1.1" fill="#d0d0d0"/><ellipse cx="409.6" cy="255.5" rx="1.2" ry="0.7" fill="#333"/></g></g></g>
<g opacity="0.15"><rect x="389.7" y="249.6" width="64.40" height="48.80" fill="#000" filter="url(#grW)"/><rect x="389.7" y="249.6" width="64.40" height="48.80" fill="#000" filter="url(#grB)"/></g>
<rect x="390.05" y="249.95" width="63.70" height="48.10" fill="none" stroke="#3a3a3a" stroke-width="0.7"/>
<g clip-path="url(#m1_2)"><g><rect x="320" y="308.4" width="64.10" height="49.20" fill="#232323"/><g filter="url(#mb12)"><ellipse cx="338.9" cy="313.8" rx="4.5" ry="4.1" transform="rotate(48 338.9 313.8)" fill="#585858"/><ellipse cx="349.4" cy="315.2" rx="3.5" ry="3.4" transform="rotate(-2 349.4 315.2)" fill="#4a4a4a"/><ellipse cx="357.2" cy="313.8" rx="4.0" ry="3.7" transform="rotate(36 357.2 313.8)" fill="#505050"/><ellipse cx="370.3" cy="319.0" rx="4.5" ry="3.5" transform="rotate(19 370.3 319.0)" fill="#555555"/><ellipse cx="325.8" cy="312.5" rx="3.5" ry="3.4" transform="rotate(34 325.8 312.5)" fill="#4a4a4a"/><ellipse cx="333.7" cy="323.0" rx="4.0" ry="3.8" transform="rotate(-3 333.7 323.0)" fill="#505050"/><ellipse cx="346.1" cy="325.0" rx="3.6" ry="2.9" transform="rotate(35 346.1 325.0)" fill="#606060"/><ellipse cx="361.2" cy="324.3" rx="4.5" ry="3.7" transform="rotate(36 361.2 324.3)" fill="#555555"/><ellipse cx="354.6" cy="330.8" rx="4.0" ry="4.0" transform="rotate(-12 354.6 330.8)" fill="#4c4c4c"/><ellipse cx="336.3" cy="332.2" rx="4.0" ry="3.4" transform="rotate(54 336.3 332.2)" fill="#505050"/><ellipse cx="374.2" cy="337.4" rx="5.0" ry="4.7" transform="rotate(-40 374.2 337.4)" fill="#585858"/><ellipse cx="323.2" cy="338.7" rx="3.5" ry="2.7" transform="rotate(-42 323.2 338.7)" fill="#4a4a4a"/><ellipse cx="342.8" cy="344.0" rx="4.0" ry="3.9" transform="rotate(37 342.8 344.0)" fill="#4a4a4a"/><ellipse cx="359.8" cy="342.6" rx="4.0" ry="3.1" transform="rotate(39 359.8 342.6)" fill="#505050"/><ellipse cx="331.0" cy="347.8" rx="3.5" ry="3.5" transform="rotate(19 331.0 347.8)" fill="#484848"/><ellipse cx="367.7" cy="349.2" rx="3.5" ry="2.9" transform="rotate(6 367.7 349.2)" fill="#4a4a4a"/><ellipse cx="340.2" cy="353.0" rx="3.0" ry="2.3" transform="rotate(-58 340.2 353.0)" fill="#444444"/><ellipse cx="381.0" cy="328.0" rx="3.5" ry="3.5" transform="rotate(18 381.0 328.0)" fill="#464646"/><ellipse cx="323.0" cy="325.0" rx="3.0" ry="2.6" transform="rotate(52 323.0 325.0)" fill="#424242"/><ellipse cx="350.0" cy="352.0" rx="3.0" ry="2.6" transform="rotate(45 350.0 352.0)" fill="#404040"/></g></g></g>
<g opacity="0.15"><rect x="320" y="308.4" width="64.10" height="49.20" fill="#000" filter="url(#grW)"/><rect x="320" y="308.4" width="64.10" height="49.20" fill="#000" filter="url(#grB)"/></g>
<rect x="320.35" y="308.75" width="63.40" height="48.50" fill="none" stroke="#181818" stroke-width="0.7"/>
<rect x="389.70" y="308.40" width="64.40" height="49.20" fill="#575757" />
<g opacity="0.15"><rect x="389.7" y="308.4" width="64.40" height="49.20" fill="#000" filter="url(#grW)"/><rect x="389.7" y="308.4" width="64.40" height="49.20" fill="#000" filter="url(#grB)"/></g>
<rect x="390.05" y="308.75" width="63.70" height="48.50" fill="none" stroke="#3a3a3a" stroke-width="0.7"/>
<g clip-path="url(#m1_3)"><g><rect x="320" y="360.6" width="64.10" height="49.20" fill="#272727"/><g filter="url(#mb20)"><ellipse cx="330.0" cy="372.0" rx="6.0" ry="4.0" transform="rotate(20 330.0 372.0)" fill="#3a3a3a"/><ellipse cx="345.0" cy="388.0" rx="7.0" ry="5.0" transform="rotate(0 345.0 388.0)" fill="#363636"/><ellipse cx="372.0" cy="380.0" rx="5.0" ry="6.0" transform="rotate(0 372.0 380.0)" fill="#3a3a3a"/><ellipse cx="330.0" cy="395.0" rx="6.0" ry="5.0" transform="rotate(0 330.0 395.0)" fill="#3c3c3c"/><ellipse cx="355.0" cy="405.0" rx="8.0" ry="4.0" transform="rotate(0 355.0 405.0)" fill="#343434"/><ellipse cx="377.0" cy="398.0" rx="5.0" ry="5.0" transform="rotate(0 377.0 398.0)" fill="#383838"/><ellipse cx="352.0" cy="370.0" rx="5.0" ry="4.0" transform="rotate(0 352.0 370.0)" fill="#363636"/></g><g filter="url(#mb6)"><ellipse cx="357.9" cy="364.5" rx="3.3" ry="2.4" transform="rotate(0 357.9 364.5)" fill="#f0f0f0"/><ellipse cx="375.5" cy="365.5" rx="2.8" ry="3.8" transform="rotate(-35 375.5 365.5)" fill="#c8c8c8"/><ellipse cx="334.3" cy="368.8" rx="2.9" ry="1.7" transform="rotate(-30 334.3 368.8)" fill="#bdbdbd"/><ellipse cx="346.1" cy="368.2" rx="1.7" ry="2.9" transform="rotate(20 346.1 368.2)" fill="#b0b0b0"/><ellipse cx="367.4" cy="371.4" rx="2.0" ry="3.3" transform="rotate(0 367.4 371.4)" fill="#e0e0e0"/><ellipse cx="338.3" cy="376" rx="2.2" ry="2.6" transform="rotate(0 338.3 376)" fill="#a0a0a0"/><ellipse cx="350.7" cy="379.3" rx="2.2" ry="3.6" transform="rotate(10 350.7 379.3)" fill="#f2f2f2"/><ellipse cx="360.5" cy="377.3" rx="2.3" ry="3.3" transform="rotate(0 360.5 377.3)" fill="#909090"/><ellipse cx="380.8" cy="378" rx="2.6" ry="2.6" transform="rotate(0 380.8 378)" fill="#e6e6e6"/><ellipse cx="327.2" cy="382.5" rx="2.9" ry="1.7" transform="rotate(-20 327.2 382.5)" fill="#8a8a8a"/><ellipse cx="336.3" cy="386.5" rx="2.9" ry="1.6" transform="rotate(-30 336.3 386.5)" fill="#9a9a9a"/><ellipse cx="369.7" cy="385.2" rx="2.9" ry="2.6" transform="rotate(-20 369.7 385.2)" fill="#f0f0f0"/><ellipse cx="322" cy="376" rx="1.4" ry="1.4" transform="rotate(0 322 376)" fill="#777"/><ellipse cx="380.1" cy="390.4" rx="2.0" ry="2.4" transform="rotate(0 380.1 390.4)" fill="#8a8a8a"/><ellipse cx="348.1" cy="394.3" rx="3.2" ry="2.6" transform="rotate(-35 348.1 394.3)" fill="#f4f4f4"/><ellipse cx="359.2" cy="394.6" rx="2.6" ry="3.9" transform="rotate(0 359.2 394.6)" fill="#f0f0f0"/><ellipse cx="369.7" cy="392.3" rx="3.2" ry="2.0" transform="rotate(0 369.7 392.3)" fill="#f0f0f0"/><ellipse cx="339.6" cy="395" rx="1.7" ry="2.6" transform="rotate(-20 339.6 395)" fill="#9a9a9a"/><ellipse cx="322.5" cy="394.3" rx="2.6" ry="1.9" transform="rotate(0 322.5 394.3)" fill="#d8d8d8"/><ellipse cx="369" cy="399.5" rx="3.2" ry="2.2" transform="rotate(-30 369 399.5)" fill="#eeeeee"/><ellipse cx="337" cy="402.2" rx="2.9" ry="2.0" transform="rotate(30 337 402.2)" fill="#b0b0b0"/><ellipse cx="325.2" cy="401.5" rx="2.4" ry="1.6" transform="rotate(0 325.2 401.5)" fill="#808080"/><ellipse cx="382" cy="405.4" rx="1.3" ry="1.3" transform="rotate(0 382 405.4)" fill="#777"/><ellipse cx="325.8" cy="363.6" rx="2.6" ry="2.0" transform="rotate(0 325.8 363.6)" fill="#6a6a6a"/></g></g></g>
<g opacity="0.15"><rect x="320" y="360.6" width="64.10" height="49.20" fill="#000" filter="url(#grW)"/><rect x="320" y="360.6" width="64.10" height="49.20" fill="#000" filter="url(#grB)"/></g>
<rect x="320.35" y="360.95" width="63.40" height="48.50" fill="none" stroke="#181818" stroke-width="0.7"/>
<g clip-path="url(#m2_3)"><g><rect x="389.7" y="360.6" width="64.40" height="49.20" fill="#4b4b4b"/><g filter="url(#mb16)"></g><g filter="url(#mb14)"><polygon points="389.7,361 399,361 398,376 396,392 392,402 389.7,402" fill="#606060"/></g><g filter="url(#mb6)"><polygon points="414.6,364.5 423.5,361.5 433.9,360.8 454.5,361.5 454.5,393.2 444.3,402.1 432.4,399.2 420.6,393.2 413.2,387.3 411.2,375.4 413,368" fill="#7e7e7e"/></g><g filter="url(#mb6)" stroke="#909090" stroke-width="0.7" fill="none"><path d="M413,388 L425,380 L433,377 L445,372 L453,374 M425,380 L428,392 L440,398 M433,377 L436,366 L430,362 M440,398 L448,390 L453,392 M418,372 L428,368 M436,366 L447,364 M414,380 L420,374 M444,380 L450,384"/></g></g></g>
<g opacity="0.15"><rect x="389.7" y="360.6" width="64.40" height="49.20" fill="#000" filter="url(#grW)"/><rect x="389.7" y="360.6" width="64.40" height="49.20" fill="#000" filter="url(#grB)"/></g>
<rect x="390.05" y="360.95" width="63.70" height="48.50" fill="none" stroke="#333333" stroke-width="0.7"/>
<text x="438.4" y="404.3" font-size="5.9" fill="#fff">10µm</text><g filter="url(#mb8)"><ellipse cx="418" cy="364.8" rx="2.4" ry="1.8" fill="#a0a0a0"/><ellipse cx="449" cy="370" rx="4" ry="4" fill="#8a8a8a"/></g>
<rect x="445.60" y="406.60" width="6.40" height="1.60" fill="#fff" />
<text x="316.60" y="245.00" font-size="8.6" text-anchor="end" fill="#111" >0h VEGF</text>
<text x="458.60" y="245.00" font-size="8.6" text-anchor="start" fill="#111" >0h VEGF</text>
<text x="316.60" y="297.10" font-size="8.6" text-anchor="end" fill="#111" >24h VEGF</text>
<text x="458.60" y="297.10" font-size="8.6" text-anchor="start" fill="#111" >48h VEGF</text>
<text x="316.60" y="356.50" font-size="8.6" text-anchor="end" fill="#111" >Ad.con</text>
<text x="458.60" y="356.50" font-size="8.6" text-anchor="start" fill="#111" >Ad.con</text>
<text x="316.60" y="408.30" font-size="8.6" text-anchor="end" fill="#111" >Ad.HLX</text>
<text x="458.60" y="408.30" font-size="8.6" text-anchor="start" fill="#111" >Ad.UNC5B</text>
<text x="82.90" y="464.18" font-size="10" text-anchor="middle" fill="#111" >UNC5B mRNA</text>
<line x1="32.00" y1="483.50" x2="32.00" y2="560.90" stroke="#111" stroke-width="1.6" />
<line x1="31.20" y1="560.20" x2="133.60" y2="560.20" stroke="#111" stroke-width="1.6" />
<text x="27.50" y="486.18" font-size="8.6" text-anchor="end" fill="#111" >120</text>
<line x1="30.20" y1="483.60" x2="32.00" y2="483.60" stroke="#111" stroke-width="0.9" />
<text x="27.50" y="512.38" font-size="8.6" text-anchor="end" fill="#111" >80</text>
<line x1="30.20" y1="509.80" x2="32.00" y2="509.80" stroke="#111" stroke-width="0.9" />
<text x="27.50" y="537.78" font-size="8.6" text-anchor="end" fill="#111" >40</text>
<line x1="30.20" y1="535.20" x2="32.00" y2="535.20" stroke="#111" stroke-width="0.9" />
<line x1="30.20" y1="496.60" x2="32.00" y2="496.60" stroke="#111" stroke-width="0.8" />
<line x1="30.20" y1="522.40" x2="32.00" y2="522.40" stroke="#111" stroke-width="0.8" />
<line x1="30.20" y1="548.00" x2="32.00" y2="548.00" stroke="#111" stroke-width="0.8" />
<line x1="65.40" y1="560.20" x2="65.40" y2="562.00" stroke="#111" stroke-width="0.8" />
<line x1="99.00" y1="560.20" x2="99.00" y2="562.00" stroke="#111" stroke-width="0.8" />
<text transform="translate(6,519) rotate(-90)" x="0" y="2.60" font-size="10" text-anchor="middle" fill="#111">mRNA (fold induction)</text>
<line x1="77.00" y1="546.40" x2="77.00" y2="548.00" stroke="#555" stroke-width="0.9" />
<line x1="75.80" y1="546.40" x2="78.20" y2="546.40" stroke="#555" stroke-width="0.9" />
<line x1="89.00" y1="552.60" x2="89.00" y2="554.00" stroke="#555" stroke-width="0.9" />
<line x1="87.80" y1="552.60" x2="90.20" y2="552.60" stroke="#555" stroke-width="0.9" />
<line x1="110.40" y1="488.30" x2="110.40" y2="495.00" stroke="#555" stroke-width="0.9" />
<line x1="109.20" y1="488.30" x2="111.60" y2="488.30" stroke="#555" stroke-width="0.9" />
<line x1="122.30" y1="547.50" x2="122.30" y2="549.20" stroke="#555" stroke-width="0.9" />
<line x1="121.10" y1="547.50" x2="123.50" y2="547.50" stroke="#555" stroke-width="0.9" />
<rect x="48.90" y="558.60" width="11.70" height="1.60" fill="#151515" />
<rect x="71.20" y="547.90" width="11.50" height="12.30" fill="#151515" />
<rect x="83.60" y="554.50" width="10.50" height="5.70" fill="#fff" stroke="#111" stroke-width="1" />
<rect x="104.60" y="495.00" width="11.60" height="65.20" fill="#151515" />
<rect x="116.80" y="549.70" width="11.00" height="10.50" fill="#fff" stroke="#111" stroke-width="1" />
<polyline points="76.50,533.20 76.50,528.00 89.00,528.00 89.00,535.30" fill="none" stroke="#111" stroke-width="1.5" stroke-linejoin="round"/>
<circle cx="83.30" cy="524.80" r="1.3" fill="#111"/>
<polyline points="110.00,481.00 110.00,476.80 122.80,476.80 122.80,490.80" fill="none" stroke="#111" stroke-width="1.5" stroke-linejoin="round"/>
<circle cx="112.10" cy="472.60" r="1.3" fill="#111"/>
<circle cx="116.30" cy="472.60" r="1.3" fill="#111"/>
<circle cx="120.50" cy="472.60" r="1.3" fill="#111"/>
<text x="53.80" y="573.78" font-size="10" text-anchor="middle" fill="#111" >0h</text>
<text x="80.20" y="573.78" font-size="10" text-anchor="middle" fill="#111" >24h</text>
<text x="115.40" y="573.78" font-size="10" text-anchor="middle" fill="#111" >48h</text>
<text x="133.60" y="573.78" font-size="10" text-anchor="start" fill="#111" >VEGF</text>
<text x="253.40" y="464.18" font-size="10" text-anchor="middle" fill="#111" >HLX mRNA</text>
<line x1="198.40" y1="483.50" x2="198.40" y2="561.20" stroke="#111" stroke-width="1.6" />
<line x1="197.60" y1="560.50" x2="299.00" y2="560.50" stroke="#111" stroke-width="1.6" />
<text x="194.10" y="484.98" font-size="8.6" text-anchor="end" fill="#111" >12</text>
<line x1="196.60" y1="482.40" x2="198.40" y2="482.40" stroke="#111" stroke-width="0.9" />
<text x="194.10" y="511.28" font-size="8.6" text-anchor="end" fill="#111" >8</text>
<line x1="196.60" y1="508.70" x2="198.40" y2="508.70" stroke="#111" stroke-width="0.9" />
<text x="194.10" y="537.48" font-size="8.6" text-anchor="end" fill="#111" >4</text>
<line x1="196.60" y1="534.90" x2="198.40" y2="534.90" stroke="#111" stroke-width="0.9" />
<line x1="196.60" y1="495.60" x2="198.40" y2="495.60" stroke="#111" stroke-width="0.8" />
<line x1="196.60" y1="521.80" x2="198.40" y2="521.80" stroke="#111" stroke-width="0.8" />
<line x1="196.60" y1="547.90" x2="198.40" y2="547.90" stroke="#111" stroke-width="0.8" />
<line x1="232.00" y1="560.50" x2="232.00" y2="562.30" stroke="#111" stroke-width="0.8" />
<line x1="266.00" y1="560.50" x2="266.00" y2="562.30" stroke="#111" stroke-width="0.8" />
<text transform="translate(175.1,512) rotate(-90)" x="0" y="2.60" font-size="10" text-anchor="middle" fill="#111">mRNA (fold induction)</text>
<line x1="209.00" y1="551.00" x2="209.00" y2="553.70" stroke="#555" stroke-width="0.9" />
<line x1="207.80" y1="551.00" x2="210.20" y2="551.00" stroke="#555" stroke-width="0.9" />
<line x1="243.00" y1="492.10" x2="243.00" y2="501.80" stroke="#888" stroke-width="0.9" />
<line x1="241.80" y1="492.10" x2="244.20" y2="492.10" stroke="#888" stroke-width="0.9" />
<line x1="254.80" y1="537.00" x2="254.80" y2="538.80" stroke="#555" stroke-width="0.9" />
<line x1="253.60" y1="537.00" x2="256.00" y2="537.00" stroke="#555" stroke-width="0.9" />
<line x1="276.80" y1="499.70" x2="276.80" y2="505.70" stroke="#555" stroke-width="0.9" />
<line x1="275.60" y1="499.70" x2="278.00" y2="499.70" stroke="#555" stroke-width="0.9" />
<line x1="288.60" y1="531.00" x2="288.60" y2="538.10" stroke="#555" stroke-width="0.9" />
<line x1="287.40" y1="531.00" x2="289.80" y2="531.00" stroke="#555" stroke-width="0.9" />
<rect x="203.20" y="553.70" width="11.80" height="6.80" fill="#151515" />
<rect x="215.50" y="557.60" width="11.00" height="2.90" fill="#fff" stroke="#111" stroke-width="1" />
<rect x="237.10" y="501.80" width="11.90" height="58.70" fill="#151515" />
<rect x="249.50" y="539.30" width="10.70" height="21.20" fill="#fff" stroke="#111" stroke-width="1" />
<rect x="271.00" y="505.70" width="11.50" height="54.80" fill="#151515" />
<rect x="283.50" y="538.60" width="10.40" height="21.90" fill="#fff" stroke="#111" stroke-width="1" />
<polyline points="242.60,488.40 242.60,484.40 255.60,484.40 255.60,498.20" fill="none" stroke="#111" stroke-width="1.5" stroke-linejoin="round"/>
<circle cx="247.10" cy="480.80" r="1.3" fill="#111"/>
<circle cx="251.30" cy="480.80" r="1.3" fill="#111"/>
<polyline points="276.40,489.00 276.40,484.40 289.30,484.40 289.30,498.20" fill="none" stroke="#111" stroke-width="1.5" stroke-linejoin="round"/>
<circle cx="280.90" cy="481.60" r="1.3" fill="#111"/>
<circle cx="285.10" cy="481.60" r="1.3" fill="#111"/>
<text x="216.40" y="573.78" font-size="10" text-anchor="middle" fill="#111" >0h</text>
<text x="251.00" y="573.78" font-size="10" text-anchor="middle" fill="#111" >24h</text>
<text x="281.10" y="573.78" font-size="10" text-anchor="middle" fill="#111" >48h</text>
<text x="297.80" y="573.78" font-size="10" text-anchor="start" fill="#111" >VEGF</text>
<text x="419.60" y="464.18" font-size="10" text-anchor="middle" fill="#111" >UNC5B protein</text>
<line x1="359.60" y1="483.50" x2="359.60" y2="561.50" stroke="#111" stroke-width="1.6" />
<line x1="358.80" y1="560.80" x2="460.50" y2="560.80" stroke="#111" stroke-width="1.6" />
<text x="359.10" y="486.08" font-size="8.6" text-anchor="end" fill="#111" >12</text>
<line x1="357.80" y1="483.50" x2="359.60" y2="483.50" stroke="#111" stroke-width="0.9" />
<text x="359.10" y="511.98" font-size="8.6" text-anchor="end" fill="#111" >8</text>
<line x1="357.80" y1="509.40" x2="359.60" y2="509.40" stroke="#111" stroke-width="0.9" />
<text x="359.10" y="537.28" font-size="8.6" text-anchor="end" fill="#111" >4</text>
<line x1="357.80" y1="534.70" x2="359.60" y2="534.70" stroke="#111" stroke-width="0.9" />
<line x1="357.80" y1="496.40" x2="359.60" y2="496.40" stroke="#111" stroke-width="0.8" />
<line x1="357.80" y1="522.00" x2="359.60" y2="522.00" stroke="#111" stroke-width="0.8" />
<line x1="357.80" y1="547.40" x2="359.60" y2="547.40" stroke="#111" stroke-width="0.8" />
<line x1="410.00" y1="560.80" x2="410.00" y2="562.60" stroke="#111" stroke-width="0.8" />
<line x1="460.00" y1="560.80" x2="460.00" y2="562.60" stroke="#111" stroke-width="0.8" />
<text transform="translate(339.7,508.8) rotate(-90)" x="0" y="2.60" font-size="10" text-anchor="middle" fill="#111">protein (% positive cells)</text>
<line x1="376.40" y1="536.40" x2="376.40" y2="549.40" stroke="#777" stroke-width="0.9" />
<line x1="375.20" y1="536.40" x2="377.60" y2="536.40" stroke="#777" stroke-width="0.9" />
<line x1="393.90" y1="558.00" x2="393.90" y2="559.50" stroke="#555" stroke-width="0.9" />
<line x1="392.70" y1="558.00" x2="395.10" y2="558.00" stroke="#555" stroke-width="0.9" />
<line x1="427.20" y1="498.50" x2="427.20" y2="521.50" stroke="#999" stroke-width="0.9" />
<line x1="426.00" y1="498.50" x2="428.40" y2="498.50" stroke="#999" stroke-width="0.9" />
<line x1="444.50" y1="551.10" x2="444.50" y2="556.20" stroke="#555" stroke-width="0.9" />
<line x1="443.30" y1="551.10" x2="445.70" y2="551.10" stroke="#555" stroke-width="0.9" />
<rect x="367.50" y="549.40" width="17.50" height="11.40" fill="#151515" />
<rect x="385.50" y="559.80" width="16.80" height="1.00" fill="#fff" stroke="#111" stroke-width="1" />
<rect x="418.00" y="521.50" width="17.30" height="39.30" fill="#151515" />
<rect x="436.30" y="556.70" width="17.00" height="4.10" fill="#fff" stroke="#111" stroke-width="1" />
<polyline points="427.70,488.00 427.70,484.20 443.80,484.20 443.80,498.50" fill="none" stroke="#111" stroke-width="1.5" stroke-linejoin="round"/>
<circle cx="430.80" cy="479.30" r="1.3" fill="#111"/>
<circle cx="435.00" cy="479.30" r="1.3" fill="#111"/>
<circle cx="439.20" cy="479.30" r="1.3" fill="#111"/>
<text x="382.80" y="573.78" font-size="10" text-anchor="middle" fill="#111" >0h</text>
<text x="433.40" y="573.78" font-size="10" text-anchor="middle" fill="#111" >56h</text>
<text x="456.40" y="573.78" font-size="10" text-anchor="start" fill="#111" >VEGF</text>
<rect x="462.80" y="501.90" width="7.60" height="6.30" fill="#151515" />
<rect x="463.30" y="517.00" width="6.60" height="5.20" fill="#fff" stroke="#111" stroke-width="1" />
<text x="475.00" y="507.80" font-size="8" text-anchor="start" fill="#111" >shRNA con</text>
<text x="475.00" y="522.10" font-size="8" text-anchor="start" fill="#111" >shRNA HLX</text>
</svg>
</body></html>
